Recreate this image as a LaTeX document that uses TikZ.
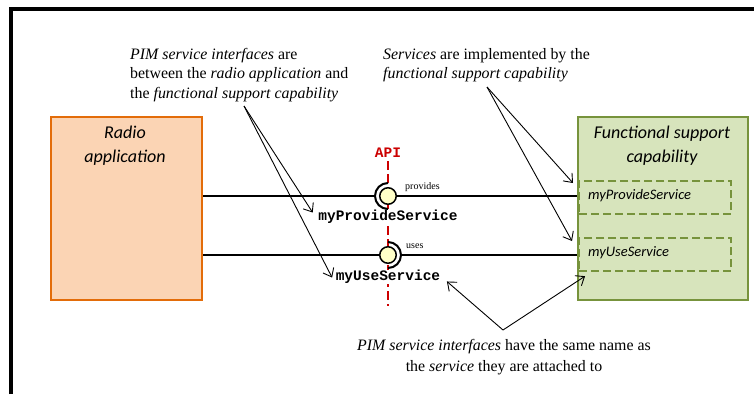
\documentclass[tikz,border=0pt]{standalone}
\usepackage{fontspec}
\setmainfont{Liberation Serif}
\newfontfamily\calibrifont{Carlito}
\newfontfamily\courierfont{Liberation Mono}
\usetikzlibrary{arrows.meta}

\definecolor{peachfill}{HTML}{FBD4B4}
\definecolor{peachline}{HTML}{E36C09}
\definecolor{olivefill}{HTML}{D7E4BC}
\definecolor{oliveline}{HTML}{77933C}
\definecolor{apired}{HTML}{CC0000}
\definecolor{ballfill}{HTML}{FFFFC8}

\tikzset{
  frameline/.style={line width=4pt},
  compbox/.style={draw, line width=2pt, anchor=north west, inner sep=0pt},
  svcbox/.style={draw=oliveline, dash pattern=on 8pt off 4pt, line width=2.2pt,
                 anchor=north west, inner sep=0pt, minimum width=152pt, minimum height=33pt},
  comptitle/.style={font=\calibrifont\itshape\fontsize{18}{24}\selectfont, align=center, inner sep=0pt},
  svctext/.style={font=\calibrifont\itshape\fontsize{14.5}{16}\selectfont, anchor=west, inner sep=0pt},
  ifname/.style={font=\courierfont\bfseries\fontsize{14.5}{16}\selectfont, fill=white, inner sep=0.5pt},
  role/.style={font=\fontsize{10}{12}\selectfont, anchor=west, inner sep=0pt},
  note/.style={font=\fontsize{15.9}{19.5}\selectfont, inner sep=0pt},
  conn/.style={line width=2pt},
  ball/.style={circle, draw, line width=1.5pt, fill=ballfill, minimum size=16.5pt, inner sep=0pt},
  socket/.style={line width=2pt},
  apiline/.style={apired, line width=1.6pt, dash pattern=on 9pt off 4pt},
  ptr/.style={line width=0.9pt, -{Straight Barb[length=7.5pt,width=12pt]}}
}

\begin{document}
\begin{tikzpicture}[x=1pt,y=-1pt]
\useasboundingbox (0,0) rectangle (754,394);
\fill[white] (0,0) rectangle (754,394);

% frame on the left and top
\draw[frameline] (11,394) -- (11,9) -- (754,9);

% components
\node[compbox, draw=peachline, fill=peachfill, minimum width=151pt, minimum height=183pt]
  (radio) at (50,116) {};
\node[comptitle] (radiotitle) at (125,146) {Radio\\application};

\node[compbox, draw=oliveline, fill=olivefill, minimum width=170pt, minimum height=183pt]
  (fsc) at (577,116) {};
\node[comptitle] (fsctitle) at (662,146) {Functional support\\capability};

\node[svcbox] (svcprov) at (578,180) {};
\node[svctext] (svcprovtext) at (588,196) {myProvideService};
\node[svcbox] (svcuse) at (578,237) {};
\node[svctext] (svcusetext) at (588,253) {myUseService};

% API boundary
\node[font=\courierfont\bfseries\fontsize{14.5}{16}\selectfont, text=apired, inner sep=0pt]
  (api) at (388,153) {API};
\coordinate (apitop) at (388,161);
\coordinate (apibot) at (388,306);
\draw[apiline] (apitop) -- (apibot);

% interface names
\node[ifname] (provname) at (388,217) {myProvideService};
\node[ifname] (usename) at (388,277) {myUseService};

% provided interface: socket on the application side, ball on the service side
\coordinate (pc) at (388,196);
\coordinate (uc) at (388,255);
\draw[conn] (radio.east |- pc) -- ([xshift=-13pt]pc);
\draw[socket] ([yshift=-13pt]pc) arc[start angle=270, end angle=90, radius=13pt];
\node[ball] (provball) at (pc) {};
\draw[conn] (provball.east) -- (fsc.west |- pc);
\node[role] (provrole) at (405,187) {provides};

% used interface: ball on the application side, socket on the service side
\draw[socket] ([yshift=-13pt]uc) arc[start angle=-90, end angle=90, radius=13pt];
\node[ball] (useball) at (uc) {};
\draw[conn] (radio.east |- uc) -- (useball.west);
\draw[conn] ([xshift=13pt]uc) -- (fsc.west |- uc);
\node[role] (userole) at (406,246) {uses};

% annotations
\node[note, anchor=north west, align=left] (noteif) at (130,48)
  {\textit{PIM service interfaces} are\\
   between the \textit{radio application} and\\
   the \textit{functional support capability}};
\node[note, anchor=north west, align=left] (notesvc) at (383,48)
  {\textit{Services} are implemented by the\\
   \textit{functional support capability}};
\node[note, anchor=north, align=center, font=\fontsize{15.9}{21}\selectfont] (notename) at (504,339)
  {\textit{PIM service interfaces} have the same name as\\
   the \textit{service} they are attached to};

\coordinate (ifsrc) at (244,106);
\coordinate (svcsrc) at (487,87);
\coordinate (namesrc) at (503,330);

\draw[ptr] (ifsrc) -- ([shift={(-5pt,-3pt)}]provname.north west);
\draw[ptr] (ifsrc) -- ([shift={(-3pt,-8pt)}]usename.north west);
\draw[ptr] (svcsrc) -- ([shift={(-5pt,-3pt)}]svcprov.north west);
\draw[ptr] (svcsrc) -- ([shift={(-6pt,-4pt)}]svcuse.north west);
\draw[ptr] (namesrc) -- ([shift={(6pt,3pt)}]usename.south east);
\draw[ptr] (namesrc) -- ([shift={(7pt,-4pt)}]svcuse.south west);
\end{tikzpicture}
\end{document}
